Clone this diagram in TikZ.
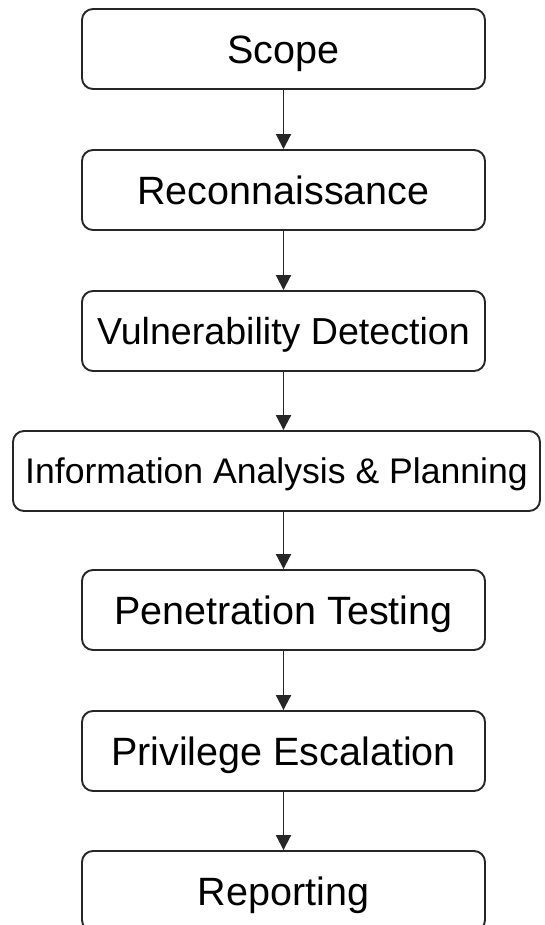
\documentclass[tikz,border=0pt]{standalone}
\usepackage{fontspec}
\setmainfont{Liberation Sans}
\usetikzlibrary{arrows.meta}
\tikzset{
  stage/.style={draw=black!85, line width=1.9pt, rounded corners=11pt,
    minimum width=403pt, minimum height=80pt, inner sep=0pt,
    text height=28.3pt, text depth=0pt,
    font=\fontsize{39.5}{46}\selectfont},
  flow/.style={draw=black!85, line width=1.9pt,
    -{Triangle[length=15pt,width=15pt]}}
}
\begin{document}
\begin{tikzpicture}[x=1pt,y=1pt]
\useasboundingbox (0,0) rectangle (544,-925);
\clip (0,0) rectangle (544,-925);
\node [stage] (scope) at (283.5,-49) {Scope};
\node [stage] (recon) at (283.5,-190) {Reconnaissance};
\node [stage, text height=26.9pt, font=\fontsize{37.6}{44}\selectfont] (vuln) at (283.5,-331) {Vulnerability Detection};
\node [stage, minimum width=527pt, text height=25.5pt, font=\fontsize{35.6}{42}\selectfont] (info) at (276.5,-471) {Information Analysis \& Planning};
\node [stage] (pentest) at (283.5,-610) {Penetration Testing};
\node [stage] (privesc) at (283.5,-751) {Privilege Escalation};
\node [stage] (report) at (283.5,-891) {Reporting};
\draw [flow] (scope.south) -- (recon.north);
\draw [flow] (recon.south) -- (vuln.north);
\draw [flow] (vuln.south) -- (vuln.south |- info.north);
\draw [flow] (pentest.north |- info.south) -- (pentest.north);
\draw [flow] (pentest.south) -- (privesc.north);
\draw [flow] (privesc.south) -- (report.north);
\end{tikzpicture}
\end{document}
